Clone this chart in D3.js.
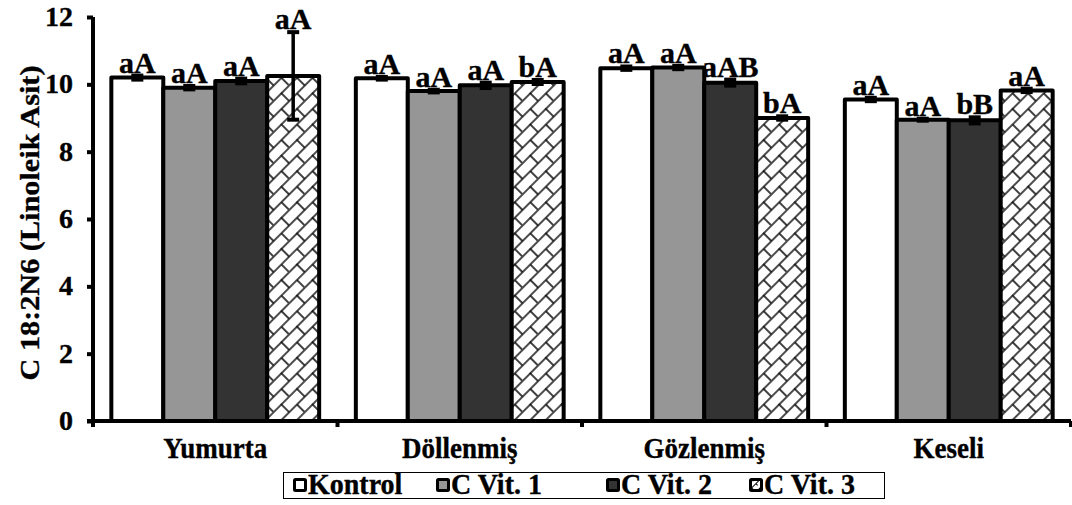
<!DOCTYPE html>
<html>
<head>
<meta charset="utf-8">
<script src="https://cdn.jsdelivr.net/npm/d3@7"></script>
<style>
  html, body { margin: 0; padding: 0; background: #fff; }
  svg { display: block; }
  text { font-family: "Liberation Serif", "Times New Roman", serif; font-weight: bold; fill: #000; stroke: #000; stroke-width: 0.35px; }
</style>
</head>
<body>
<svg id="chart" width="1072" height="505"></svg>
<script>
// Linoleic acid (C 18:2N6) by developmental stage and vitamin C treatment
const stages = ["Yumurta", "Döllenmiş", "Gözlenmiş", "Keseli"];
const groups = ["Kontrol", "C Vit. 1", "C Vit. 2", "C Vit. 3"];

const kontrol = [10.2, 10.18, 10.48, 9.55];
const cVit1   = [9.9, 9.8, 10.5, 8.95];
const cVit2   = [10.1, 9.97, 10.05, 8.93];
const cVit3   = [10.25, 10.07, 9.0, 9.82];

const kontrolErr = [0.06, 0.04, 0.05, 0.05];
const cVit1Err   = [0.05, 0.04, 0.05, 0.03];
const cVit2Err   = [0.07, 0.08, 0.09, 0.09];
const cVit3Err   = [1.3, 0.06, 0.05, 0.05];

const kontrolLetters = ["aA", "aA", "aA", "aA"];
const cVit1Letters   = ["aA", "aA", "aA", "aA"];
const cVit2Letters   = ["aA", "aA", "aAB", "bB"];
const cVit3Letters   = ["aA", "bA", "bA", "aA"];

const yTicks = [0, 2, 4, 6, 8, 10, 12];
const yTitle = "C 18:2N6 (Linoleik Asit)";

const seriesValues = [kontrol, cVit1, cVit2, cVit3];
const seriesErrors = [kontrolErr, cVit1Err, cVit2Err, cVit3Err];
const seriesLetters = [kontrolLetters, cVit1Letters, cVit2Letters, cVit3Letters];
const fills = ["#ffffff", "#969696", "#333333", "url(#brick)"];

const svg = d3.select("#chart");

// place a text element at (x, y), optionally stretched vertically
function label(parent, x, y, str, size, anchor, tall) {
  return parent.append("text")
    .attr("transform", `translate(${x},${y}) scale(1,${tall || 1})`)
    .attr("text-anchor", anchor || "start")
    .attr("font-size", size)
    .text(str);
}

// diagonal brick hatch used for the third treatment
const defs = svg.append("defs");
const pat = defs.append("pattern")
  .attr("id", "brick")
  .attr("patternUnits", "userSpaceOnUse")
  .attr("width", 22).attr("height", 22)
  .attr("patternTransform", "rotate(-45)");
pat.append("rect").attr("width", 22).attr("height", 22).attr("fill", "#fff");
pat.append("path")
  .attr("d", "M0,1H22M0,12H22M1,0V12M12,12V22")
  .attr("stroke", "#111").attr("stroke-width", 1.6).attr("fill", "none");

const small = defs.append("pattern")
  .attr("id", "brickSmall")
  .attr("patternUnits", "userSpaceOnUse")
  .attr("width", 6).attr("height", 6)
  .attr("patternTransform", "rotate(-45)");
small.append("rect").attr("width", 6).attr("height", 6).attr("fill", "#fff");
small.append("path").attr("d", "M0,0.5H6M0.5,0V3").attr("stroke", "#000").attr("stroke-width", 1);

const x0 = d3.scaleBand().domain(stages).range([93, 1071]).paddingInner(0.15).paddingOuter(0.075);
const x1 = d3.scaleBand().domain(groups).range([0, x0.bandwidth()]);
const y = d3.scaleLinear().domain([0, 12]).range([421, 17]);

const data = [];
stages.forEach((s, i) => {
  groups.forEach((g, j) => {
    data.push({ stage: s, group: g, j, value: seriesValues[j][i], err: seriesErrors[j][i], letter: seriesLetters[j][i] });
  });
});

// bars
svg.append("g").selectAll("rect")
  .data(data).join("rect")
  .attr("x", d => x0(d.stage) + x1(d.group))
  .attr("y", d => y(d.value))
  .attr("width", x1.bandwidth())
  .attr("height", d => y(0) - y(d.value))
  .attr("fill", d => fills[d.j])
  .attr("stroke", "#000")
  .attr("stroke-width", 4)
  .attr("stroke-linejoin", "round");

// error bars
const eb = svg.append("g").attr("stroke", "#000");
data.forEach(d => {
  const cx = x0(d.stage) + x1(d.group) + x1.bandwidth() / 2;
  const yt = y(d.value + d.err), yb = y(d.value - d.err);
  eb.append("line").attr("x1", cx).attr("x2", cx).attr("y1", yt).attr("y2", yb).attr("stroke-width", 3.5);
  eb.append("line").attr("x1", cx - 6).attr("x2", cx + 6).attr("y1", yt).attr("y2", yt).attr("stroke-width", 4);
  eb.append("line").attr("x1", cx - 6).attr("x2", cx + 6).attr("y1", yb).attr("y2", yb).attr("stroke-width", 4);
});

// significance letters
const lettersG = svg.append("g");
data.forEach(d => {
  label(lettersG, x0(d.stage) + x1(d.group) + x1.bandwidth() / 2, y(d.value + d.err) - 3, d.letter, 30, "middle");
});

// y axis
const yAxis = svg.append("g")
  .attr("transform", "translate(93,0)")
  .call(d3.axisLeft(y).tickValues(yTicks).tickSize(6).tickFormat(""));
yAxis.select(".domain").attr("stroke", "#000").attr("stroke-width", 4).attr("d", `M0,${y(12)}V${y(0)}`);
yAxis.selectAll(".tick line").attr("stroke", "#000").attr("stroke-width", 4);
const yLab = svg.append("g");
yTicks.forEach(t => label(yLab, 73, y(t) + 9, d3.format("d")(t), 28, "end"));

// x axis with boundary ticks
const xa = svg.append("g");
xa.append("line").attr("x1", 87).attr("x2", 1071).attr("y1", y(0)).attr("y2", y(0))
  .attr("stroke", "#000").attr("stroke-width", 4);
const bounds = d3.range(stages.length + 1).map(i => 93 + i * x0.step());
xa.selectAll("line.b").data(bounds).join("line").attr("class", "b")
  .attr("x1", d => d).attr("x2", d => d)
  .attr("y1", y(0)).attr("y2", y(0) + 6)
  .attr("stroke", "#000").attr("stroke-width", 4);
stages.forEach(s => label(xa, x0(s) + x0.bandwidth() / 2, 458, s, 27, "middle", 1.08));

// y title
svg.append("text")
  .attr("transform", "translate(39,223) rotate(-90) scale(1.12,1)")
  .attr("text-anchor", "middle")
  .attr("font-size", 27)
  .text(yTitle);

// legend
const lg = svg.append("g");
lg.append("rect").attr("x", 283.5).attr("y", 472.5).attr("width", 601).attr("height", 26)
  .attr("fill", "#fff").attr("stroke", "#000").attr("stroke-width", 1);
const legendX = [293, 436, 606, 749];
const legendFills = ["#ffffff", "#969696", "#333333", "url(#brickSmall)"];
groups.forEach((g, j) => {
  lg.append("rect").attr("x", legendX[j] + 1.5).attr("y", 479.5).attr("width", 11).attr("height", 11)
    .attr("fill", legendFills[j]).attr("stroke", "#000").attr("stroke-width", 3).attr("rx", 1);
  label(lg, legendX[j] + 15, 494, g, 28, "start", 1.05);
});
</script>
</body>
</html>
